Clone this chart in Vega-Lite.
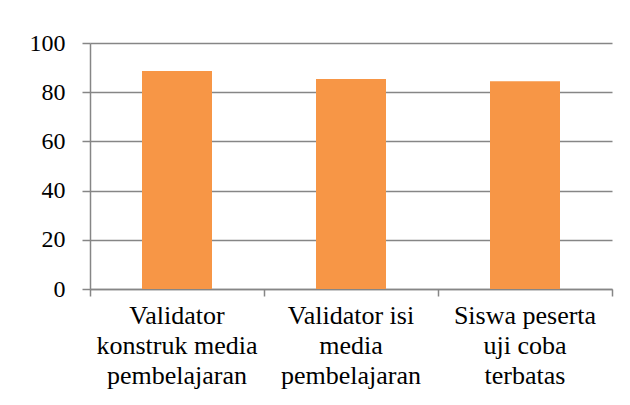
{
  "$schema": "https://vega.github.io/schema/vega-lite/v6.json",
  "autosize": "none",
  "width": 522,
  "height": 246,
  "padding": {"left": 90, "top": 43, "right": 18, "bottom": 116},
  "background": "white",
  "config": {
    "view": {"stroke": null},
    "font": "Liberation Serif",
    "axisY": {
      "title": null, "values": [0, 20, 40, 60, 80, 100],
      "domainColor": "#868686", "domainWidth": 1.5,
      "tickColor": "#868686", "tickWidth": 1.5, "tickSize": 8,
      "gridColor": "#868686", "gridWidth": 1.5, "grid": true,
      "labelFont": "Liberation Serif", "labelFontSize": 24, "labelColor": "black",
      "labelPadding": 17
    }
  },
  "data": {"values": [
    {"kategori": "Validator konstruk media pembelajaran", "nilai": 88.6},
    {"kategori": "Validator isi media pembelajaran", "nilai": 85.4},
    {"kategori": "Siswa peserta uji coba terbatas", "nilai": 84.4}
  ]},
  "resolve": {"axis": {"x": "independent"}},
  "layer": [
    {
      "mark": {"type": "bar", "color": "#F79646", "size": 70},
      "encoding": {
        "x": {
          "field": "kategori", "type": "nominal", "sort": null,
          "scale": {"paddingInner": 0, "paddingOuter": 0},
          "axis": {
            "title": null, "labels": false, "orient": "bottom", "domainColor": "#868686", "domainWidth": 1.5,
            "tickColor": "#868686", "tickWidth": 1.5, "tickSize": 7, "tickBand": "extent"
          }
        },
        "y": {
          "field": "nilai", "type": "quantitative",
          "scale": {"domain": [0, 100], "nice": false}
        }
      }
    },
    {
      "mark": {"type": "bar", "color": "#F79646", "size": 70},
      "encoding": {
        "x": {
          "field": "kategori", "type": "nominal", "sort": null,
          "axis": {
            "title": null, "orient": "bottom", "labelAngle": 0, "domain": false, "ticks": false,
            "labelFont": "Liberation Serif", "labelFontSize": 26, "labelColor": "black",
            "labelLineHeight": 30, "labelPadding": 13, "labelBaseline": "top",
            "labelExpr": "datum.value == 'Validator konstruk media pembelajaran' ? ['Validator', 'konstruk media', 'pembelajaran'] : datum.value == 'Validator isi media pembelajaran' ? ['Validator isi', 'media', 'pembelajaran'] : ['Siswa peserta', 'uji coba', 'terbatas']"
          }
        },
        "y": {"field": "nilai", "type": "quantitative"}
      }
    }
  ]
}
